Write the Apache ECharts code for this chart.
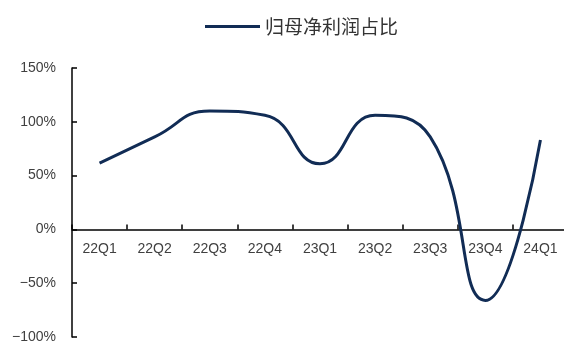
<!DOCTYPE html>
<html>
<head>
<meta charset="utf-8">
<script src="https://cdn.jsdelivr.net/npm/echarts@6/dist/echarts.min.js"></script>
<style>
  html, body { margin: 0; padding: 0; background: #fff; }
  #chart { width: 564px; height: 347px; }
</style>
</head>
<body>
<div id="chart"></div>
<script>
// Quarterly share of net profit attributable to parent (%)
const quarters = ['22Q1', '22Q2', '22Q3', '22Q4', '23Q1', '23Q2', '23Q3', '23Q4', '24Q1'];
const shareValues = [61.5, 86, 110, 106, 61, 106, 86, -66, 83];
const seriesName = '归母净利润占比';
const yTicks = [-100, -50, 0, 50, 100, 150];

const GRID_TOP = 68, GRID_BOTTOM = 10, CHART_H = 347;
const yMin = yTicks[0], yMax = yTicks[yTicks.length - 1];
// distance from the bottom edge of the plot up to the zero line
const plotH = CHART_H - GRID_TOP - GRID_BOTTOM;
const zeroOffset = plotH * (0 - yMin) / (yMax - yMin);

const chart = echarts.init(document.getElementById('chart'));
const labelFont = { fontFamily: 'Arial, "Liberation Sans", sans-serif', fontSize: 14, color: '#404040' };

chart.setOption({
  animation: false,
  legend: {
    top: 12,
    left: 200,
    data: [seriesName],
    icon: 'rect',
    itemWidth: 55,
    itemHeight: 3,
    itemGap: 3,
    textStyle: { fontFamily: '"Noto Sans CJK SC", sans-serif', fontSize: 19, color: '#333' }
  },
  grid: { left: 72, right: -4, top: GRID_TOP, bottom: GRID_BOTTOM, containLabel: false, outerBoundsMode: 'none' },
  xAxis: {
    type: 'category',
    data: quarters,
    boundaryGap: true,
    position: 'bottom',
    offset: -zeroOffset,
    axisLine: { onZero: false, lineStyle: { color: '#000', width: 1.5 } },
    axisTick: { show: true, inside: true, length: 5, lineStyle: { color: '#000', width: 1.5 } },
    axisLabel: Object.assign({ margin: 13 }, labelFont)
  },
  yAxis: {
    type: 'value',
    min: yMin,
    max: yMax,
    interval: 50,
    splitLine: { show: false },
    axisLine: { show: true, lineStyle: { color: '#000', width: 1.5 } },
    axisTick: { show: true, inside: true, length: 5, lineStyle: { color: '#000', width: 1.5 } },
    axisLabel: Object.assign({
      margin: 16,
      formatter: v => (v < 0 ? '\u2212' + Math.abs(v) : v) + '%'
    }, labelFont)
  },
  series: [{
    name: seriesName,
    type: 'line',
    data: shareValues,
    smooth: 0.5,
    symbol: 'none',
    lineStyle: { color: '#112c55', width: 3 },
    itemStyle: { color: '#112c55' }
  }]
});
</script>
</body>
</html>
